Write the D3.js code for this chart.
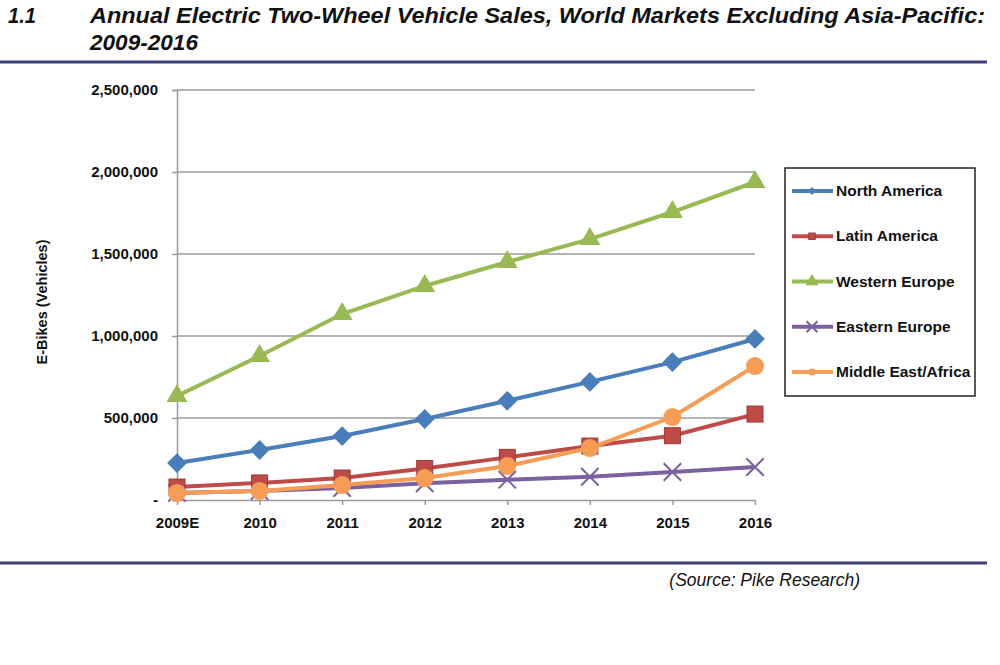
<!DOCTYPE html>
<html><head><meta charset="utf-8">
<script src="https://cdn.jsdelivr.net/npm/d3@7"></script>
<style>body{margin:0;background:#fff}svg{display:block}</style>
</head><body>
<svg id="c" width="1000" height="665"></svg>
<script>
const categories = ["2009E","2010","2011","2012","2013","2014","2015","2016"];
const northAmerica = [225000,305000,390000,494000,605000,720000,841000,982000];
const latinAmerica = [79000,104000,134000,192000,260000,329000,392000,524000];
const westernEurope = [634000,878000,1134000,1305000,1451000,1591000,1756000,1939000];
const easternEurope = [43000,55000,73000,102000,124000,142000,171000,201000];
const middleEastAfrica = [43000,55000,91000,134000,207000,317000,506000,817000];
const yTicks = [0,500000,1000000,1500000,2000000,2500000];
const seriesNames = ["North America","Latin America","Western Europe","Eastern Europe","Middle East/Africa"];

const series = [
  {name:seriesNames[0], values:northAmerica, color:"#4a7ebb", marker:"diamond"},
  {name:seriesNames[1], values:latinAmerica, color:"#be4b48", marker:"square"},
  {name:seriesNames[2], values:westernEurope, color:"#98b954", marker:"triangle"},
  {name:seriesNames[3], values:easternEurope, color:"#7d60a0", marker:"x"},
  {name:seriesNames[4], values:middleEastAfrica, color:"#f59d56", marker:"circle"}
];

const svg = d3.select("#c");
const font = "'Liberation Sans', Arial, sans-serif";
const navy = "#3f3d7c";

// Header
svg.append("text").attr("x",8).attr("y",23).attr("font-family",font).attr("font-weight","bold")
  .attr("font-style","italic").attr("font-size",22).attr("fill","#111")
  .attr("textLength",28).attr("lengthAdjust","spacingAndGlyphs").text("1.1");
svg.append("text").attr("x",90).attr("y",23).attr("font-family",font).attr("font-weight","bold")
  .attr("font-style","italic").attr("font-size",22).attr("fill","#111")
  .attr("textLength",895).attr("lengthAdjust","spacingAndGlyphs")
  .text("Annual Electric Two-Wheel Vehicle Sales, World Markets Excluding Asia-Pacific:");
svg.append("text").attr("x",90).attr("y",50).attr("font-family",font).attr("font-weight","bold")
  .attr("font-style","italic").attr("font-size",22).attr("fill","#111")
  .attr("textLength",108).attr("lengthAdjust","spacingAndGlyphs").text("2009-2016");
svg.append("line").attr("x1",0).attr("x2",987).attr("y1",62).attr("y2",62).attr("stroke",navy).attr("stroke-width",3);
svg.append("line").attr("x1",0).attr("x2",987).attr("y1",563).attr("y2",563).attr("stroke",navy).attr("stroke-width",3);
svg.append("text").attr("x",860).attr("y",586).attr("text-anchor","end").attr("font-family",font)
  .attr("font-style","italic").attr("font-size",17.5).attr("fill","#111").text("(Source: Pike Research)");

// Scales
const x = d3.scalePoint().domain(categories).range([177,755]);
const y = d3.scaleLinear().domain([0,2500000]).range([500,90]);

// Gridlines
const g = svg.append("g");
g.selectAll("line.grid").data(yTicks.slice(1)).join("line")
  .attr("x1",177).attr("x2",755).attr("y1",d=>y(d)).attr("y2",d=>y(d))
  .attr("stroke","#9a9a9a").attr("stroke-width",1.5);

// Y axis
const yAxis = svg.append("g").attr("transform","translate(177,0)")
  .call(d3.axisLeft(y).tickValues(yTicks).tickSize(5).tickPadding(14)
    .tickFormat(d => d===0 ? "-" : d3.format(",")(d)));
yAxis.select(".domain").attr("stroke","#9a9a9a").attr("stroke-width",1.5);
yAxis.selectAll(".tick line").attr("stroke","#9a9a9a").attr("stroke-width",1.5);
yAxis.selectAll(".tick text").attr("font-family",font).attr("font-weight","bold").attr("font-size",15).attr("fill","#111");

// X axis
const xAxis = svg.append("g").attr("transform","translate(0,500)")
  .call(d3.axisBottom(x).tickSize(5).tickSizeOuter(0).tickPadding(12));
xAxis.select(".domain").attr("stroke","#9a9a9a").attr("stroke-width",1.5);
xAxis.selectAll(".tick line").attr("stroke","#9a9a9a").attr("stroke-width",1.5);
xAxis.selectAll(".tick text").attr("font-family",font).attr("font-weight","bold").attr("font-size",15).attr("fill","#111");

// Y label
svg.append("text").attr("transform","translate(47,302) rotate(-90)").attr("text-anchor","middle")
  .attr("font-family",font).attr("font-weight","bold").attr("font-size",14.5).attr("fill","#111")
  .text("E-Bikes (Vehicles)");

function drawMarker(sel, type, color, scale) {
  const s = scale || 1;
  if (type === "diamond") sel.append("rect").attr("x",-7*s).attr("y",-7*s).attr("width",14*s).attr("height",14*s)
    .attr("transform","rotate(45)").attr("fill",color);
  else if (type === "square") sel.append("rect").attr("x",-8*s).attr("y",-8*s).attr("width",16*s).attr("height",16*s).attr("fill",color).attr("stroke","#9a3a38").attr("stroke-width",1);
  else if (type === "triangle") sel.append("path").attr("d",d3.symbol(d3.symbolTriangle, 190*s)()).attr("fill",color);
  else if (type === "x") sel.append("path").attr("d",d3.symbol(d3.symbolTimes, 200*s)()).attr("fill","none").attr("stroke",color).attr("stroke-width",2);
  else if (type === "circle") sel.append("circle").attr("r",9*s).attr("fill",color);
}

const line = d3.line().x((d,i)=>x(categories[i])).y(d=>y(d));
const order = [3,1,4,0,2];
order.forEach(k => {
  const s = series[k];
  svg.append("path").attr("d",line(s.values)).attr("fill","none").attr("stroke",s.color).attr("stroke-width",4);
  s.values.forEach((v,i) => {
    const m = svg.append("g").attr("transform",`translate(${x(categories[i])},${y(v)})`);
    drawMarker(m, s.marker, s.color);
  });
});

// Legend
const lg = svg.append("g");
lg.append("rect").attr("x",785).attr("y",168).attr("width",190).attr("height",228)
  .attr("fill","#fff").attr("stroke","#222").attr("stroke-width",1.5);
const ly = d3.scalePoint().domain(seriesNames).range([191,372]);
series.forEach(s => {
  const yy = ly(s.name);
  lg.append("line").attr("x1",792).attr("x2",833).attr("y1",yy).attr("y2",yy).attr("stroke",s.color).attr("stroke-width",4);
  const m = lg.append("g").attr("transform",`translate(812,${yy})`);
  drawMarker(m, s.marker, s.color, 0.4);
  lg.append("text").attr("x",836).attr("y",yy+5).attr("font-family",font).attr("font-weight","bold")
    .attr("font-size",15.5).attr("fill","#111").text(s.name);
});
</script>
</body></html>
